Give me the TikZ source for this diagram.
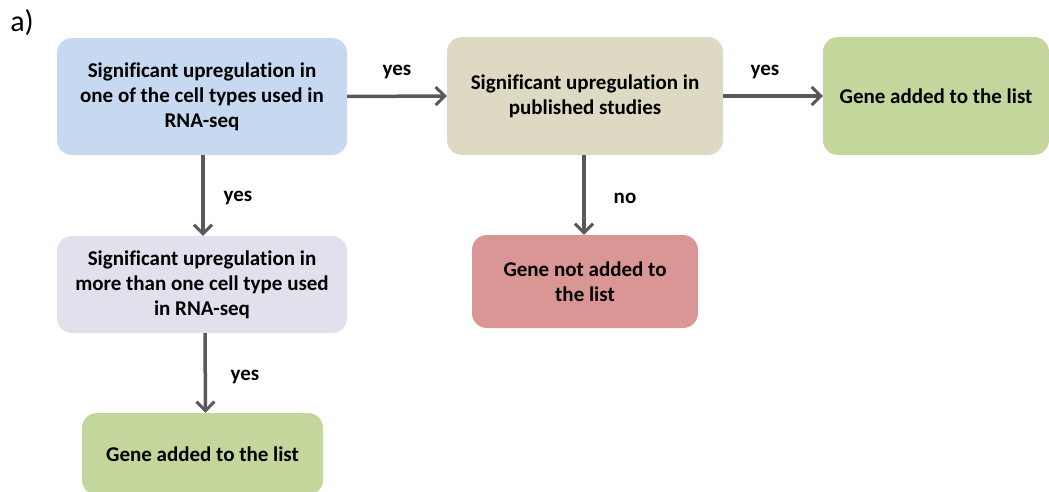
\documentclass[tikz,border=0pt]{standalone}
\usepackage{fontspec}
\setmainfont[Ligatures=NoCommon]{Carlito}
\usetikzlibrary{arrows.meta}
\definecolor{cblue}{HTML}{C6D9F1}
\definecolor{ctan}{HTML}{DDD9C3}
\definecolor{cgreen}{HTML}{C3D69B}
\definecolor{clav}{HTML}{E4DFEC}
\definecolor{cred}{HTML}{D99694}
\definecolor{carrow}{HTML}{595959}
\tikzset{
  box/.style={rounded corners=15pt, inner sep=0pt, align=center, font=\fontsize{21}{25}\selectfont\bfseries, text=black},
  conn/.style={draw=carrow, line width=3.5pt, -{Straight Barb[length=9pt,width=18pt,line width=3pt]}},
  lbl/.style={font=\fontsize{21}{24}\selectfont\bfseries, text=black, inner sep=0pt}
}
\begin{document}
\begin{tikzpicture}[x=1pt,y=-1pt]
\useasboundingbox (0,0) rectangle (1049,492);
\node[font=\fontsize{30}{34}\selectfont, anchor=center] (lab) at (22,23) {a)};
\node[box, fill=cblue, minimum width=290pt, minimum height=117pt] (b1) at (202,96.5) {Significant upregulation in\\one of the cell types used in\\RNA-seq};
\node[box, fill=ctan, minimum width=276pt, minimum height=118pt] (b2) at (585,96) {Significant upregulation in\\published studies};
\node[box, fill=cgreen, minimum width=226pt, minimum height=118pt] (b3) at (936,96) {Gene added to the list};
\node[box, fill=clav, minimum width=290pt, minimum height=97pt] (b4) at (202,284.5) {Significant upregulation in\\more than one cell type used\\in RNA-seq};
\node[box, fill=cred, minimum width=226pt, minimum height=93pt] (b5) at (585,281.5) {Gene not added to\\the list};
\node[box, fill=cgreen, minimum width=241pt, minimum height=82pt] (b6) at (202.5,454) {Gene added to the list};
\draw[conn] (b1.east) -- (b2.west);
\draw[conn] (b2.east) -- (b3.west);
\draw[conn] ([xshift=1pt]b1.south) -- ([xshift=1pt]b4.north);
\draw[conn] ([xshift=-1pt]b2.south) -- ([xshift=-1pt]b5.north);
\draw[conn] ([xshift=3pt]b4.south) -- ([xshift=3pt]b6.north);
\node[lbl] (y1) at (397,72) {yes};
\node[lbl] (y2) at (765,72) {yes};
\node[lbl] (y3) at (238,198) {yes};
\node[lbl] (n1) at (625,198) {no};
\node[lbl] (y4) at (245,377) {yes};
\end{tikzpicture}
\end{document}
